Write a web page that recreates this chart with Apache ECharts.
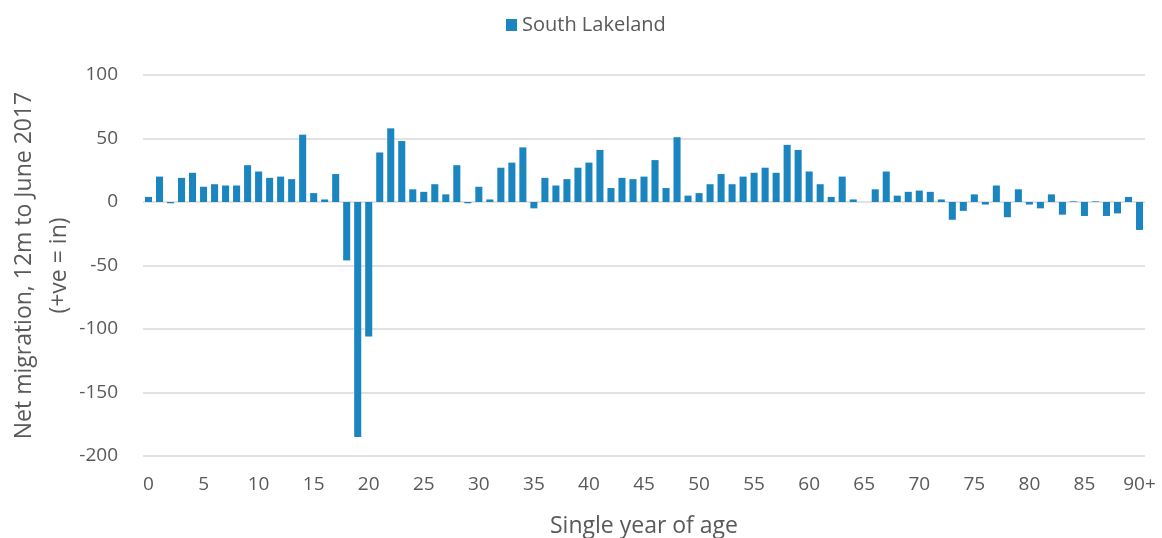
<!DOCTYPE html>
<html>
<head>
<meta charset="utf-8">
<script src="https://cdn.jsdelivr.net/npm/echarts@6/dist/echarts.min.js"></script>
<style>
  html, body { margin: 0; padding: 0; background: #fff; }
  #chart { width: 1162px; height: 538px; }
</style>
</head>
<body>
<div id="chart"></div>
<script>
// ages 0..89 then 90+
const ages = []
for (let i = 0; i < 90; i++) ages.push(String(i))
ages.push('90+')

// net migration by single year of age
const southLakeland = [
  4, 20, -1, 19, 23, 12, 14, 13, 13, 29,
  24, 19, 20, 18, 53, 7, 2, 22, -46, -185,
  -106, 39, 58, 48, 10, 8, 14, 6, 29, -1,
  12, 2, 27, 31, 43, -5, 19, 13, 18, 27,
  31, 41, 11, 19, 18, 20, 33, 11, 51, 5,
  7, 14, 22, 14, 20, 23, 27, 23, 45, 41,
  24, 14, 4, 20, 2, 0, 10, 24, 5, 8,
  9, 8, 2, -14, -7, 6, -2, 13, -12, 10,
  -2, -5, 6, -10, 0.5, -11, 0.5, -11, -9, 4,
  -22
]

const yTicks = [-200, -150, -100, -50, 0, 50, 100]

const textColor = '#595959'
const font = 'Open Sans'

const chart = echarts.init(document.getElementById('chart'))
chart.setOption({
  animation: false,
  textStyle: { fontFamily: font, color: textColor },
  legend: {
    top: 10,
    left: 501,
    icon: 'rect',
    itemWidth: 11,
    itemHeight: 12,
    itemGap: 4,
    textStyle: { fontFamily: font, fontSize: 20, color: textColor },
    data: ['South Lakeland']
  },
  grid: { left: 143, right: 17, top: 75, bottom: 82, containLabel: false, outerBoundsMode: 'none' },
  xAxis: {
    type: 'category',
    data: ages,
    name: 'Single year of age',
    nameLocation: 'middle',
    nameGap: 59,
    nameMoveOverlap: false,
    nameTextStyle: { fontFamily: font, fontSize: 23, color: textColor },
    axisLine: { show: false, onZero: false },
    axisTick: { show: false },
    axisLabel: {
      interval: 4,
      margin: 19,
      fontFamily: font,
      fontSize: 19,
      color: textColor
    }
  },
  yAxis: {
    type: 'value',
    min: yTicks[0],
    max: yTicks[yTicks.length - 1],
    interval: 50,
    name: 'Net migration, 12m to June 2017\n(+ve = in)',
    nameLocation: 'middle',
    nameGap: 66,
    nameMoveOverlap: false,
    nameTextStyle: { fontFamily: font, fontSize: 23, color: textColor, lineHeight: 35 },
    axisLine: { show: false },
    axisTick: { show: false },
    axisLabel: { margin: 25, fontFamily: font, fontSize: 19, color: textColor },
    splitLine: { lineStyle: { color: '#d9d9d9', width: 1.5 } }
  },
  series: [{
    name: 'South Lakeland',
    type: 'bar',
    data: southLakeland,
    barCategoryGap: '36%',
    itemStyle: { color: '#1a85bf' }
  }]
})
</script>
</body>
</html>
